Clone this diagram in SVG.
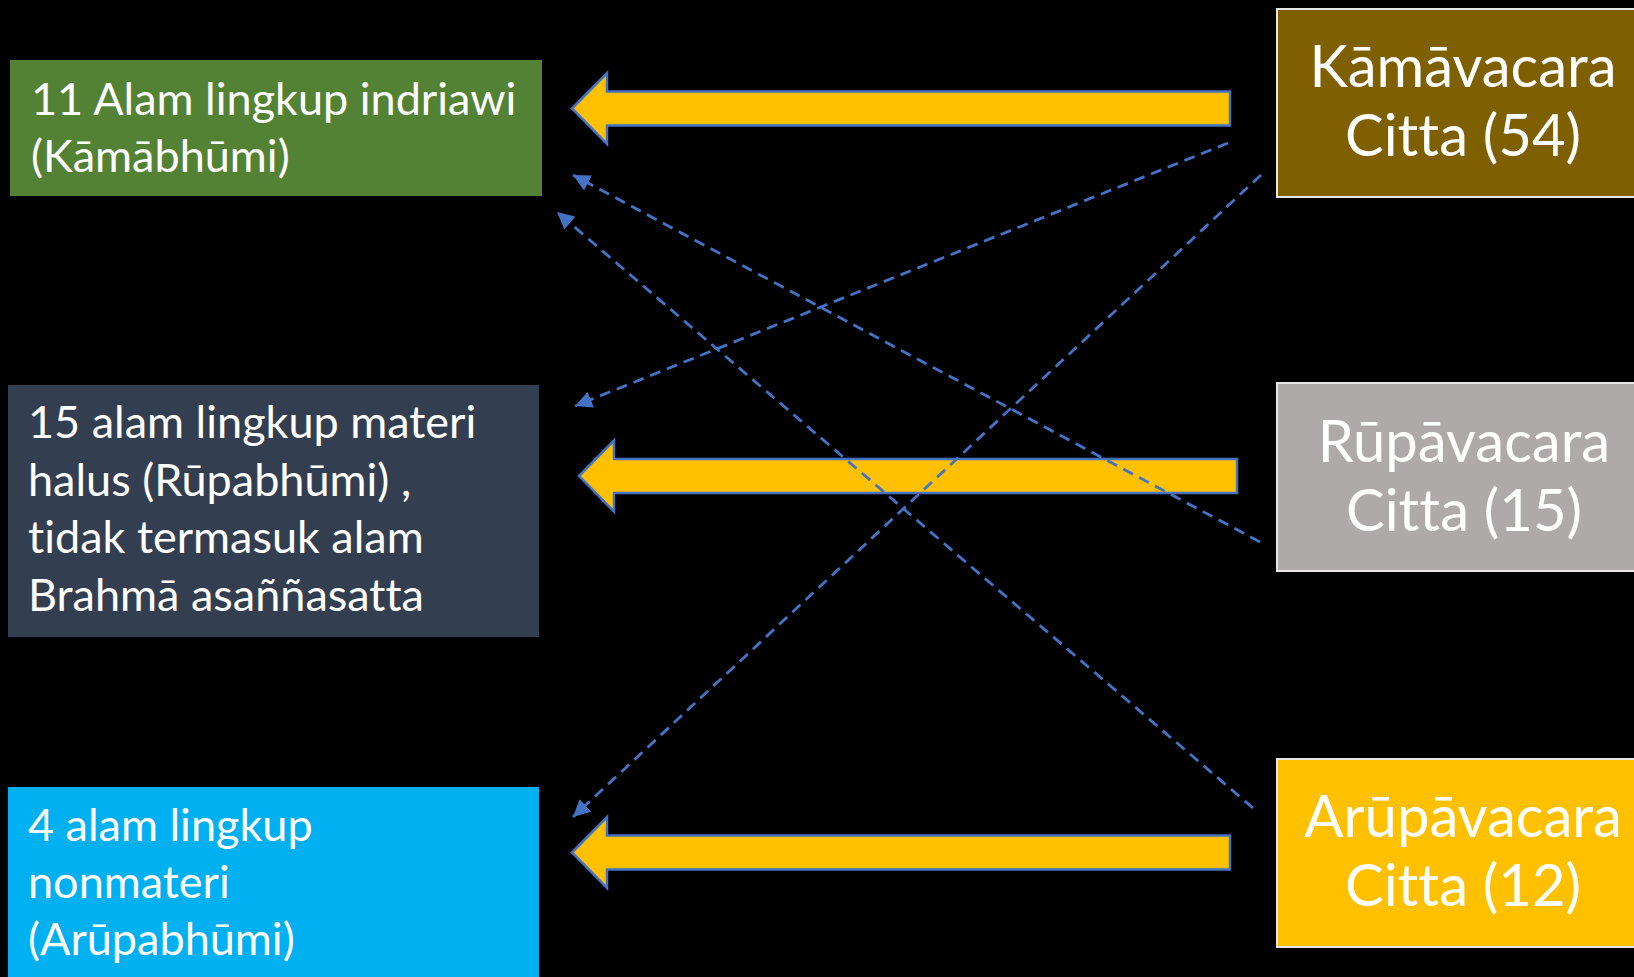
<svg xmlns="http://www.w3.org/2000/svg" width="1634" height="977" viewBox="0 0 1634 977">
  <defs>
    <style>
      .lbl { font-family: Lato, "Open Sans", "Liberation Sans", sans-serif; fill: #FFFFFF; font-variant-ligatures: none; font-feature-settings: "liga" 0, "clig" 0; }
      .left { font-size: 45px; }
      .right { font-size: 58px; text-anchor: middle; }
      .src { stroke: #E6E6E6; stroke-width: 2; }
      .block { fill: #FFC000; stroke: #4472C4; stroke-width: 2.5; stroke-linejoin: miter; }
      .dash { fill: none; stroke: #4472C4; stroke-width: 2.8; stroke-dasharray: 11 7; marker-end: url(#tri); }
    </style>
    <marker id="tri" viewBox="0 0 17 17" refX="17" refY="8.5" markerWidth="17" markerHeight="17" markerUnits="userSpaceOnUse" orient="auto">
      <path d="M0,0 L17,8.5 L0,17 Z" fill="#4472C4"/>
    </marker>
    <!-- wide left-pointing block arrow, tip at the origin -->
    <path id="bigArrow" d="M0,0 L35,-35.5 L35,-17 L658,-17 L658,17 L35,17 L35,35.5 Z"/>
  </defs>

  <rect x="0" y="0" width="1634" height="977" fill="#000000"/>

  <!-- realms (left column) -->
  <g id="kamabhumi">
    <rect x="10" y="60" width="532" height="136" fill="#548235"/>
    <text class="lbl left" x="31" y="115">11 Alam lingkup indriawi</text>
    <text class="lbl left" x="31" y="172">(Kāmābhūmi)</text>
  </g>

  <g id="rupabhumi">
    <rect x="8" y="385" width="531" height="252" fill="#333F50"/>
    <text class="lbl left" x="28" y="438">15 alam lingkup materi</text>
    <text class="lbl left" x="28" y="495.5">halus (Rūpabhūmi) ,</text>
    <text class="lbl left" x="28" y="553">tidak termasuk alam</text>
    <text class="lbl left" x="28" y="610.5">Brahmā asaññasatta</text>
  </g>

  <g id="arupabhumi">
    <rect x="8" y="787" width="531" height="200" fill="#00B0F0"/>
    <text class="lbl left" x="28" y="841">4 alam lingkup</text>
    <text class="lbl left" x="28" y="898">nonmateri</text>
    <text class="lbl left" x="28" y="955">(Arūpabhūmi)</text>
  </g>

  <!-- consciousness types (right column) -->
  <g id="kamavacara">
    <rect class="src" x="1277" y="9" width="370" height="188" fill="#7F6000"/>
    <text class="lbl right" x="1463" y="87">Kāmāvacara</text>
    <text class="lbl right" x="1463" y="156">Citta (54)</text>
  </g>

  <g id="rupavacara">
    <rect class="src" x="1277" y="383" width="370" height="188" fill="#AEAAAA"/>
    <text class="lbl right" x="1464" y="462">Rūpāvacara</text>
    <text class="lbl right" x="1464" y="531">Citta (15)</text>
  </g>

  <g id="arupavacara">
    <rect class="src" x="1277" y="759" width="370" height="188" fill="#FFC000"/>
    <text class="lbl right" x="1463" y="837">Arūpāvacara</text>
    <text class="lbl right" x="1463" y="906">Citta (12)</text>
  </g>

  <!-- connectors -->
  <g id="connectors">
    <use href="#bigArrow" class="block" transform="translate(572,108.5)"/>
    <use href="#bigArrow" class="block" transform="translate(579,476)"/>
    <use href="#bigArrow" class="block" transform="translate(572,852.5)"/>

    <path class="dash" d="M1228,143 L575,406"/>
    <path class="dash" d="M1261,175 L573,817"/>
    <path class="dash" d="M1260,542 L573,175"/>
    <path class="dash" d="M1253,808 L557,212"/>
  </g>
</svg>
